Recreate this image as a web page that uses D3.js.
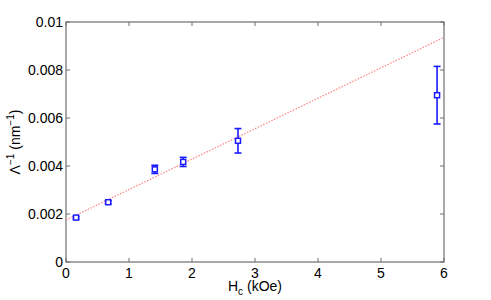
<!DOCTYPE html>
<html>
<head>
<meta charset="utf-8">
<script src="https://cdn.jsdelivr.net/npm/d3@7"></script>
<style>
  body { margin: 0; background: #fff; }
  text { font-family: "Liberation Sans", Arial, sans-serif; }
</style>
</head>
<body>
<div id="chart"></div>
<script>
// data
const hc = [0.16, 0.67, 1.41, 1.86, 2.73, 5.89];
const invLambda = [0.00185, 0.00249, 0.00386, 0.00417, 0.00505, 0.00695];
const errs = [0.00005, 0.00006, 0.00017, 0.00019, 0.00051, 0.0012];
const fitX = [0, 6];
const fitY = [0.00175, 0.00936];
const xTicks = [0, 1, 2, 3, 4, 5, 6];
const yTicks = [0, 0.002, 0.004, 0.006, 0.008, 0.01];

let width = 491, height = 300;
let margin = {left: 66, right: 47, top: 22, bottom: 38};

let svg = d3.select('#chart').append('svg')
    .attr('width', width)
    .attr('height', height);

let x = d3.scaleLinear().domain([0, 6]).range([margin.left, width - margin.right]);
let y = d3.scaleLinear().domain([0, 0.01]).range([height - margin.bottom, margin.top]);

let axisColor = '#6e6e6e';

// box
svg.append('rect')
    .attr('x', x(0)).attr('y', y(0.01))
    .attr('width', x(6) - x(0)).attr('height', y(0) - y(0.01))
    .attr('fill', 'none').attr('stroke', axisColor).attr('stroke-width', 1.2);

// ticks (inward, mirrored)
let tl = 4;
xTicks.forEach(t => {
    svg.append('line').attr('x1', x(t)).attr('x2', x(t)).attr('y1', y(0)).attr('y2', y(0) - tl).attr('stroke', axisColor);
    svg.append('line').attr('x1', x(t)).attr('x2', x(t)).attr('y1', y(0.01)).attr('y2', y(0.01) + tl).attr('stroke', axisColor);
    svg.append('text').attr('x', x(t)).attr('y', y(0) + 16)
        .attr('text-anchor', 'middle').attr('font-size', 14).attr('fill', '#000').text(t);
});
yTicks.forEach(t => {
    svg.append('line').attr('x1', x(0)).attr('x2', x(0) + tl).attr('y1', y(t)).attr('y2', y(t)).attr('stroke', axisColor);
    svg.append('line').attr('x1', x(6)).attr('x2', x(6) - tl).attr('y1', y(t)).attr('y2', y(t)).attr('stroke', axisColor);
    svg.append('text').attr('x', x(0) - 3).attr('y', y(t) + 5)
        .attr('text-anchor', 'end').attr('font-size', 14).attr('fill', '#000').text(t);
});

// fit line
let line = d3.line().x((d, i) => x(fitX[i])).y(d => y(d));
svg.append('path')
    .attr('d', line(fitY))
    .attr('fill', 'none')
    .attr('stroke', '#ff8080')
    .attr('stroke-width', 1.2)
    .attr('stroke-dasharray', '1.5 1.5');

// error bars + markers
let blue = '#1a1aff';
hc.forEach((h, i) => {
    let cx = x(h), lo = y(invLambda[i] - errs[i]), hi = y(invLambda[i] + errs[i]);
    let cap = 3.5;
    svg.append('line').attr('x1', cx).attr('x2', cx).attr('y1', lo).attr('y2', hi)
        .attr('stroke', blue).attr('stroke-width', 1.6);
    svg.append('line').attr('x1', cx - cap).attr('x2', cx + cap).attr('y1', lo).attr('y2', lo)
        .attr('stroke', blue).attr('stroke-width', 1.6);
    svg.append('line').attr('x1', cx - cap).attr('x2', cx + cap).attr('y1', hi).attr('y2', hi)
        .attr('stroke', blue).attr('stroke-width', 1.6);
    svg.append('rect')
        .attr('x', cx - 2.5).attr('y', y(invLambda[i]) - 2.5)
        .attr('width', 5).attr('height', 5)
        .attr('fill', '#fff').attr('stroke', blue).attr('stroke-width', 1.5);
});

// axis labels
let xl = svg.append('text').attr('x', 255).attr('y', 291)
    .attr('text-anchor', 'middle').attr('font-size', 14).attr('fill', '#000');
xl.append('tspan').text('H');
xl.append('tspan').attr('font-size', 10).attr('dy', 4).text('c');
xl.append('tspan').attr('dy', -4).text(' (kOe)');

let yl = svg.append('text')
    .attr('transform', 'translate(20,142) rotate(-90)')
    .attr('text-anchor', 'middle').attr('font-size', 14).attr('fill', '#000');
yl.append('tspan').text('Λ');
yl.append('tspan').attr('font-size', 10).attr('dy', -6).text('−1');
yl.append('tspan').attr('dy', 6).text(' (nm');
yl.append('tspan').attr('font-size', 10).attr('dy', -6).text('−1');
yl.append('tspan').attr('dy', 6).text(')');
</script>
</body>
</html>
